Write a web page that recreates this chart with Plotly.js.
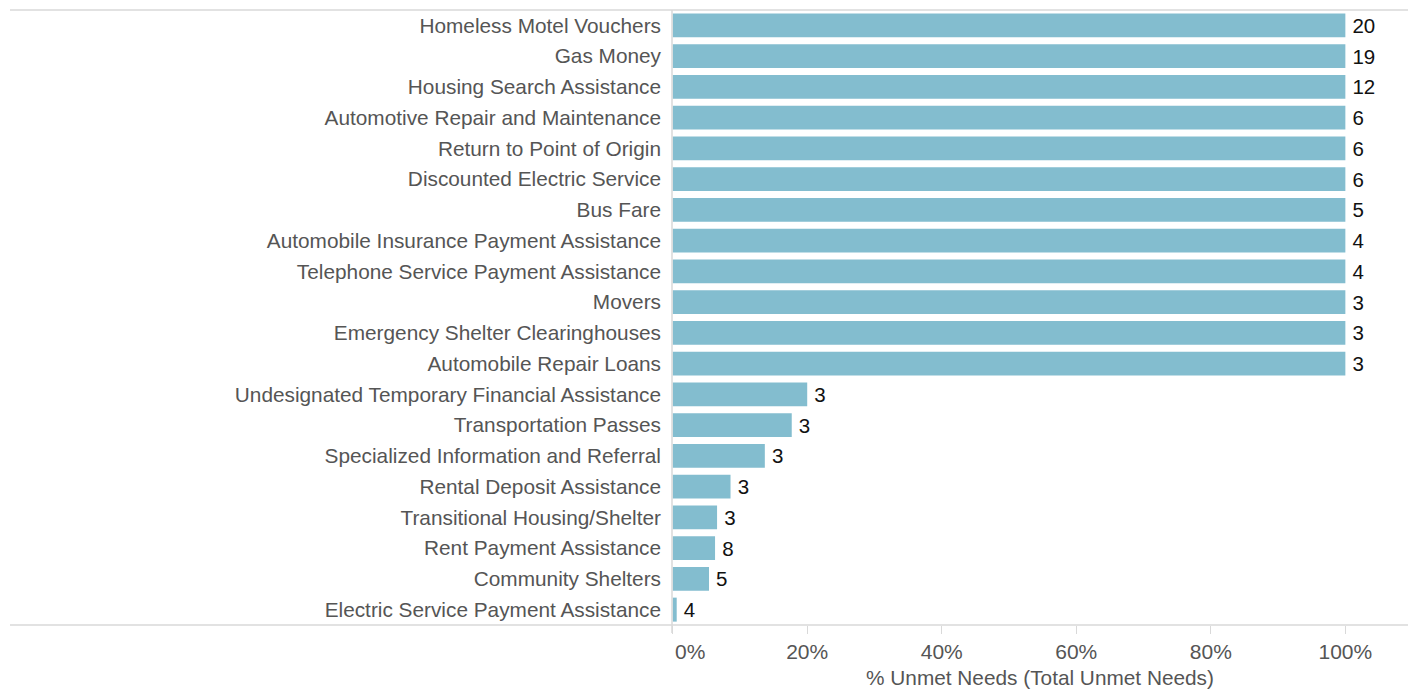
<!DOCTYPE html>
<html>
<head>
<meta charset="utf-8">
<script src="https://cdn.plot.ly/plotly-3.0.1.min.js"></script>
<style>html,body{margin:0;padding:0;background:#fff;}#chart{width:1408px;height:689px;}</style>
</head>
<body>
<div id="chart"></div>
<script>
const categories = [
  "Homeless Motel Vouchers",
  "Gas Money",
  "Housing Search Assistance",
  "Automotive Repair and Maintenance",
  "Return to Point of Origin",
  "Discounted Electric Service",
  "Bus Fare",
  "Automobile Insurance Payment Assistance",
  "Telephone Service Payment Assistance",
  "Movers",
  "Emergency Shelter Clearinghouses",
  "Automobile Repair Loans",
  "Undesignated Temporary Financial Assistance",
  "Transportation Passes",
  "Specialized Information and Referral",
  "Rental Deposit Assistance",
  "Transitional Housing/Shelter",
  "Rent Payment Assistance",
  "Community Shelters",
  "Electric Service Payment Assistance"
];
const pctUnmet = [1, 1, 1, 1, 1, 1, 1, 1, 1, 1, 1, 1, 0.20, 0.177, 0.137, 0.086, 0.066, 0.063, 0.054, 0.006];
const totalUnmet = [20, 19, 12, 6, 6, 6, 5, 4, 4, 3, 3, 3, 3, 3, 3, 3, 3, 8, 5, 4];
const tickValues = [0, 0.2, 0.4, 0.6, 0.8, 1.0];
const tickLabels = ["0%", "20%", "40%", "60%", "80%", "100%"];

const ticktext = tickLabels.map((t, i) => i === 0 ? "\u00a0\u00a0\u00a0\u00a0\u00a0\u00a0" + t : t);

const FONT = 'Liberation Sans, Arial, Helvetica, sans-serif';
const trace = {
  type: 'bar',
  orientation: 'h',
  x: pctUnmet,
  y: categories,
  text: totalUnmet.map(String),
  texttemplate: '\u2009%{text}',
  textposition: 'outside',
  cliponaxis: false,
  textfont: {family: FONT, size: 20.5, color: '#111'},
  marker: {color: '#83bdcf', line: {width: 0}},
  hoverinfo: 'none'
};

const L = 672, W = 1408 - L;
const layout = {
  width: 1408, height: 689,
  margin: {l: L, r: 0, t: 10, b: 64, pad: 0},
  paper_bgcolor: '#fff', plot_bgcolor: '#fff',
  bargap: 0.22,
  showlegend: false,
  font: {family: FONT, size: 20.5, color: '#555'},
  xaxis: {
    range: [-0.001, W / 673.3],
    tickvals: tickValues,
    ticktext: ticktext,
    ticks: 'outside', ticklen: 8, tickcolor: '#d9d9d9', tickwidth: 1,
    showgrid: false, zeroline: false, showline: false,
    tickfont: {size: 21, color: '#555'},
    title: {text: '% Unmet Needs (Total Unmet Needs)', font: {size: 20.8, color: '#555'}, standoff: 11},
    fixedrange: true
  },
  yaxis: {
    autorange: 'reversed',
    showgrid: false, zeroline: false, showline: false,
    ticks: '', ticklabelstandoff: 10,
    tickfont: {size: 20.8, color: '#555'},
    fixedrange: true
  },
  shapes: [
    {type: 'line', xref: 'paper', yref: 'paper', x0: -(L - 10) / W, x1: 1, y0: 1, y1: 1, line: {color: '#d9d9d9', width: 1.5}},
    {type: 'line', xref: 'paper', yref: 'paper', x0: -(L - 10) / W, x1: 1, y0: 0, y1: 0, line: {color: '#d9d9d9', width: 1.5}},
    {type: 'line', xref: 'paper', yref: 'paper', x0: 0, x1: 0, y0: 1, y1: -8 / 615, line: {color: '#d9d9d9', width: 1.5}}
  ]
};

Plotly.newPlot('chart', [trace], layout, {displayModeBar: false, staticPlot: true});
</script>
</body>
</html>
